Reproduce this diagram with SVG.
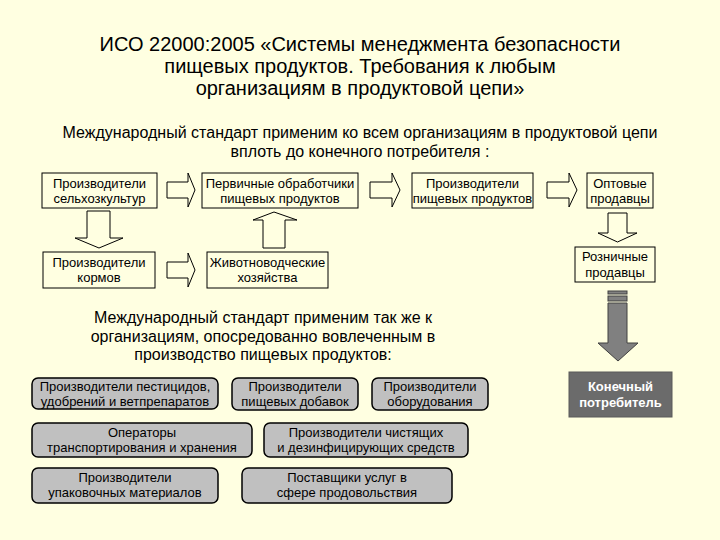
<svg xmlns="http://www.w3.org/2000/svg" width="720" height="540" viewBox="0 0 720 540">
<style>
text{font-family:"Liberation Sans",Arial,sans-serif;fill:#000;text-anchor:middle}
.title{font-size:20px}
.sub{font-size:16px}
.bt{font-size:13px}
.box{fill:none;stroke:#000;stroke-width:1}
.gbox{fill:#c0c0c0;stroke:#000;stroke-width:1.5}
.arr{fill:none;stroke:#000;stroke-width:1}
.dark{fill:#808080;stroke:#404040;stroke-width:1}
.wt{font-size:13px;font-weight:bold;fill:#fff}
</style>
<rect width="720" height="540" fill="#ffffe1"/>
<g id="title">
<text class="title" x="360" y="51">ИСО 22000:2005 «Системы менеджмента безопасности</text>
<text class="title" x="360" y="73">пищевых продуктов. Требования к любым</text>
<text class="title" x="360" y="95">организациям в продуктовой цепи»</text>
</g>
<g id="subtitle">
<text class="sub" x="360" y="138">Международный стандарт применим ко всем организациям в продуктовой цепи</text>
<text class="sub" x="360" y="157">вплоть до конечного потребителя :</text>
</g>
<g id="connectors">
<path class="arr" d="M167,182 H188 V173 L195,190 L188,207 V198 H167 Z"/>
<path class="arr" d="M370,182 H392 V173 L400,190 L392,207 V198 H370 Z"/>
<path class="arr" d="M547,182 H569 V173 L577,190 L569,207 V198 H547 Z"/>
<path class="arr" d="M167,262 H188 V253 L195,270 L188,287 V278 H167 Z"/>
<path class="arr" d="M87,211 H110 V238 H123 L99,248 L75,238 H87 Z"/>
<path class="arr" d="M263,248 H285 V220 H297 L274,212 L253,220 H263 Z"/>
<path class="arr" d="M608,213 H627 V233 H637 L617.5,242 L598,233 H608 Z"/>
<rect class="dark" x="608" y="291" width="19" height="3"/>
<rect class="dark" x="608" y="296" width="19" height="5"/>
<path class="dark" d="M608,303 H627 V343 H638 L618,361 L598,343 H608 Z"/>
</g>
<g id="n-agri">
<rect class="box" x="42" y="173" width="115" height="35"/>
<text class="bt" x="99.5" y="188">Производители</text>
<text class="bt" x="99.5" y="203">сельхозкультур</text>
</g>
<g id="n-primary">
<rect class="box" x="202" y="173" width="156" height="35"/>
<text class="bt" x="280" y="188">Первичные обработчики</text>
<text class="bt" x="280" y="203">пищевых продуктов</text>
</g>
<g id="n-food">
<rect class="box" x="412" y="173" width="121" height="35"/>
<text class="bt" x="472.5" y="188">Производители</text>
<text class="bt" x="472.5" y="203">пищевых продуктов</text>
</g>
<g id="n-wholesale">
<rect class="box" x="587" y="173" width="66" height="35"/>
<text class="bt" x="620" y="188">Оптовые</text>
<text class="bt" x="620" y="203">продавцы</text>
</g>
<g id="n-feed">
<rect class="box" x="43" y="252" width="112" height="36"/>
<text class="bt" x="99" y="267">Производители</text>
<text class="bt" x="99" y="282">кормов</text>
</g>
<g id="n-livestock">
<rect class="box" x="207" y="252" width="121" height="36"/>
<text class="bt" x="267.5" y="267">Животноводческие</text>
<text class="bt" x="267.5" y="282">хозяйства</text>
</g>
<g id="n-retail">
<rect class="box" x="575" y="247" width="80" height="35"/>
<text class="bt" x="615" y="261">Розничные</text>
<text class="bt" x="615" y="277">продавцы</text>
</g>
<g id="n-consumer">
<rect x="569" y="372" width="103" height="45" fill="#6b6b6b" stroke="#5a5a5a"/>
<text class="wt" x="620.5" y="391">Конечный</text>
<text class="wt" x="620.5" y="407">потребитель</text>
</g>
<g id="middle-text">
<text class="sub" x="263" y="323">Международный стандарт применим так же к</text>
<text class="sub" x="263" y="342">организациям, опосредованно вовлеченным в</text>
<text class="sub" x="263" y="360">производство пищевых продуктов:</text>
</g>
<g id="n-pesticides">
<rect class="gbox" x="32" y="378" width="186" height="31" rx="6"/>
<text class="bt" x="125" y="391">Производители пестицидов,</text>
<text class="bt" x="125" y="406">удобрений и ветпрепаратов</text>
</g>
<g id="n-additives">
<rect class="gbox" x="232" y="378" width="126" height="32" rx="6"/>
<text class="bt" x="295" y="391">Производители</text>
<text class="bt" x="295" y="406">пищевых добавок</text>
</g>
<g id="n-equipment">
<rect class="gbox" x="372" y="378" width="116" height="32" rx="6"/>
<text class="bt" x="430" y="391">Производители</text>
<text class="bt" x="430" y="406">оборудования</text>
</g>
<g id="n-transport">
<rect class="gbox" x="32" y="423" width="220" height="34" rx="6"/>
<text class="bt" x="142" y="437">Операторы</text>
<text class="bt" x="142" y="452">транспортирования и хранения</text>
</g>
<g id="n-cleaning">
<rect class="gbox" x="264" y="423" width="204" height="34" rx="6"/>
<text class="bt" x="366" y="437">Производители чистящих</text>
<text class="bt" x="366" y="452">и дезинфицирующих средств</text>
</g>
<g id="n-packaging">
<rect class="gbox" x="32" y="468" width="186" height="35" rx="6"/>
<text class="bt" x="125" y="482">Производители</text>
<text class="bt" x="125" y="497">упаковочных материалов</text>
</g>
<g id="n-services">
<rect class="gbox" x="242" y="468" width="210" height="35" rx="6"/>
<text class="bt" x="347" y="482">Поставщики услуг в</text>
<text class="bt" x="347" y="497">сфере продовольствия</text>
</g>
</svg>
